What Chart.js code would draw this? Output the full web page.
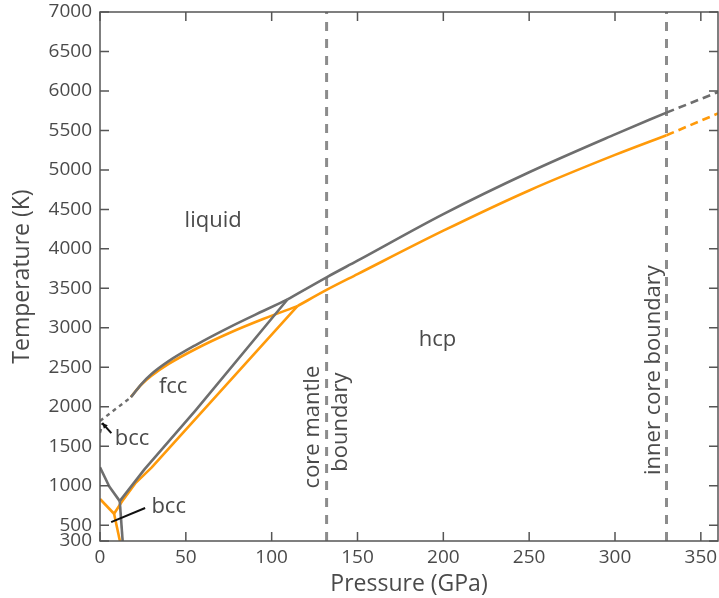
<!DOCTYPE html>
<html>
<head>
<meta charset="utf-8">
<script src="https://cdn.jsdelivr.net/npm/chart.js@4/dist/chart.umd.min.js"></script>
<style>
  html, body { margin: 0; padding: 0; background: #fff; }
  #wrap { width: 719px; height: 598px; }
</style>
</head>
<body>
<div id="wrap"><canvas id="c" width="719" height="598"></canvas></div>
<script>
// Iron phase diagram: pressure (GPa) vs temperature (K)
const xTicks = [0, 50, 100, 150, 200, 250, 300, 350];
const yTicks = [300, 500, 1000, 1500, 2000, 2500, 3000, 3500, 4000, 4500, 5000, 5500, 6000, 6500, 7000];

const cmbPressure = 132;   // core-mantle boundary
const icbPressure = 330;   // inner-core boundary

// melting curve, model A (grey)
const meltLowGray = [[0, 1820], [18, 2120]];
const meltFccGray = [[18, 2120], [24, 2285], [30, 2415], [40, 2578], [56, 2785], [75, 3003],
                     [95, 3213], [109.2, 3359]];
const meltHcpGray = [[109.2, 3359], [132.5, 3646], [150, 3850], [200, 4440], [250, 4970],
                     [300, 5450], [330, 5726]];
const meltGrayExtra = [[330, 5726], [360, 5985]];
const deltaGray = [[0, 1670], [1.5, 1790]];
// solid-solid boundaries, model A
const fccHcpGray = [[11.5, 805], [26, 1210], [55.8, 1958], [109.2, 3359]];
const bccFccGray = [[0, 1233], [5.4, 990], [11.5, 805]];
const bccHcpGray = [[11.5, 805], [13.2, 300]];

// melting curve, model B (orange)
const meltFccOrange = [[18, 2125], [24, 2279], [30, 2393], [40, 2543], [56, 2735], [75, 2931],
                       [95, 3111], [115, 3275]];
const meltHcpOrange = [[115, 3275], [132.5, 3486], [150, 3680], [200, 4230], [250, 4740],
                       [300, 5190], [330, 5439]];
const meltOrangeExtra = [[330, 5439], [360, 5715]];
// solid-solid boundaries, model B
const fccHcpOrange = [[8.2, 645], [12.7, 797], [20.5, 1030], [30, 1230], [115, 3275]];
const bccFccOrange = [[0, 832], [8.2, 645]];
const bccHcpOrange = [[8.2, 645], [11.6, 300]];

// phase labels [text, pressure, temperature, rotated]
const labels = [
  ['liquid', 65.9, 4351, false],
  ['fcc', 42.6, 2249, false],
  ['hcp', 196.6, 2844, false],
  ['bcc', 18.7, 1591, false],
  ['bcc', 40.0, 730, false],
  ['core mantle', 123.8, 1743, true],
  ['boundary', 140.3, 1806, true],
  ['inner core boundary', 322.8, 2465, true]
];
// pointer lines [from P, from T, to P, to T, arrow head]
const pointers = [
  [6.6, 1667, 1.3, 1794, true],
  [26.3, 718, 6.5, 540, false]
];

const GRAY = '#6e6e6e';
const ORANGE = '#ff9a0a';
const TEXT = '#4a4a4a';
const FONT = "'Open Sans', 'Noto Sans', sans-serif";

const pts = arr => arr.map(([x, y]) => ({ x, y }));

function line(data, color, opts = {}) {
  return Object.assign({
    data: pts(data),
    showLine: true,
    borderColor: color,
    backgroundColor: color,
    borderWidth: 2.6,
    pointRadius: 0,
    fill: false,
    tension: 0,
    borderCapStyle: 'butt',
    borderJoinStyle: 'round'
  }, opts);
}

const smooth = { cubicInterpolationMode: 'monotone' };

const datasets = [
  line(meltFccGray, GRAY, Object.assign({ order: 1 }, smooth)),
  line(meltHcpGray, GRAY, Object.assign({ order: 1 }, smooth)),
  line(meltLowGray, GRAY, { order: 1, borderDash: [4, 4], borderWidth: 2.4 }),
  line(deltaGray, GRAY, { order: 1, borderDash: [4, 4], borderWidth: 2.4 }),
  line(meltGrayExtra, GRAY, { order: 1, borderDash: [8, 5] }),
  line(fccHcpGray, GRAY, { order: 1 }),
  line(bccFccGray, GRAY, { order: 1 }),
  line(bccHcpGray, GRAY, { order: 1 }),
  line(meltFccOrange, ORANGE, Object.assign({ order: 2 }, smooth)),
  line(meltHcpOrange, ORANGE, Object.assign({ order: 2 }, smooth)),
  line(meltOrangeExtra, ORANGE, { order: 2, borderDash: [8, 5] }),
  line(fccHcpOrange, ORANGE, { order: 2 }),
  line(bccFccOrange, ORANGE, { order: 2 }),
  line(bccHcpOrange, ORANGE, { order: 2 }),
  line([[cmbPressure, 300], [cmbPressure, 7000]], '#8c8c8c', { order: 3, borderDash: [9, 8], borderWidth: 3 }),
  line([[icbPressure, 300], [icbPressure, 7000]], '#8c8c8c', { order: 3, borderDash: [9, 8], borderWidth: 3 })
];

// frame with inward tick marks on all four sides
const framePlugin = {
  id: 'frame',
  afterDraw(chart) {
    const { ctx, chartArea: a, scales: { x, y } } = chart;
    ctx.save();
    ctx.strokeStyle = '#555';
    ctx.lineWidth = 1.5;
    ctx.strokeRect(a.left, a.top, a.right - a.left, a.bottom - a.top);
    ctx.beginPath();
    xTicks.forEach(v => {
      const px = x.getPixelForValue(v);
      ctx.moveTo(px, a.bottom); ctx.lineTo(px, a.bottom - 9);
      ctx.moveTo(px, a.top); ctx.lineTo(px, a.top + 9);
    });
    yTicks.forEach(v => {
      const py = y.getPixelForValue(v);
      ctx.moveTo(a.left, py); ctx.lineTo(a.left + 9, py);
      ctx.moveTo(a.right, py); ctx.lineTo(a.right - 9, py);
    });
    ctx.stroke();
    ctx.restore();
  }
};

// phase-region labels and pointer lines
const labelPlugin = {
  id: 'phaseLabels',
  afterDatasetsDraw(chart) {
    const { ctx, scales: { x, y } } = chart;
    ctx.save();
    ctx.fillStyle = TEXT;
    ctx.font = `22px ${FONT}`;
    ctx.textAlign = 'center';
    ctx.textBaseline = 'middle';
    labels.forEach(([t, p, k, rot]) => {
      const px = x.getPixelForValue(p), py = y.getPixelForValue(k);
      if (rot) {
        ctx.save();
        ctx.translate(px, py);
        ctx.rotate(-Math.PI / 2);
        ctx.fillText(t, 0, 0);
        ctx.restore();
      } else {
        ctx.fillText(t, px, py);
      }
    });
    ctx.strokeStyle = '#111';
    ctx.fillStyle = '#111';
    ctx.lineWidth = 2;
    pointers.forEach(([p0, t0, p1, t1, head]) => {
      const x0 = x.getPixelForValue(p0), y0 = y.getPixelForValue(t0);
      const x1 = x.getPixelForValue(p1), y1 = y.getPixelForValue(t1);
      ctx.beginPath();
      ctx.moveTo(x0, y0); ctx.lineTo(x1, y1);
      ctx.stroke();
      if (head) {
        const ang = Math.atan2(y1 - y0, x1 - x0);
        ctx.beginPath();
        ctx.moveTo(x1, y1);
        ctx.lineTo(x1 - 6 * Math.cos(ang - 0.45), y1 - 6 * Math.sin(ang - 0.45));
        ctx.lineTo(x1 - 6 * Math.cos(ang + 0.45), y1 - 6 * Math.sin(ang + 0.45));
        ctx.closePath();
        ctx.fill();
      }
    });
    ctx.restore();
  }
};

const plain = v => String(v);

new Chart(document.getElementById('c'), {
  type: 'scatter',
  data: { datasets },
  options: {
    responsive: false,
    animation: false,
    devicePixelRatio: 1,
    layout: { padding: { top: 12, right: 1, left: 0, bottom: 0 } },
    plugins: { legend: { display: false }, tooltip: { enabled: false } },
    scales: {
      x: {
        type: 'linear',
        min: 0, max: 360,
        afterBuildTicks: s => { s.ticks = xTicks.map(v => ({ value: v })); },
        afterFit: s => { s.height = 57; s.paddingLeft = 0; s.paddingRight = 0; },
        grid: { display: false, drawTicks: false },
        border: { display: false },
        ticks: { color: TEXT, padding: 5, font: { family: FONT, size: 19 }, maxRotation: 0, callback: plain },
        title: { display: true, text: 'Pressure (GPa)', color: TEXT, font: { family: FONT, size: 23 }, padding: { top: 0, bottom: 0 } }
      },
      y: {
        type: 'linear',
        min: 300, max: 7000,
        afterBuildTicks: s => { s.ticks = yTicks.map(v => ({ value: v })); },
        afterFit: s => { s.width = 100; s.paddingTop = 0; s.paddingBottom = 0; },
        grid: { display: false, drawTicks: false },
        border: { display: false },
        ticks: { color: TEXT, padding: 8, font: { family: FONT, size: 19 }, autoSkip: false, callback: plain },
        title: { display: true, text: 'Temperature (K)', color: TEXT, font: { family: FONT, size: 23 }, padding: { top: 9, bottom: 0 } }
      }
    }
  },
  plugins: [framePlugin, labelPlugin]
});
</script>
</body>
</html>
